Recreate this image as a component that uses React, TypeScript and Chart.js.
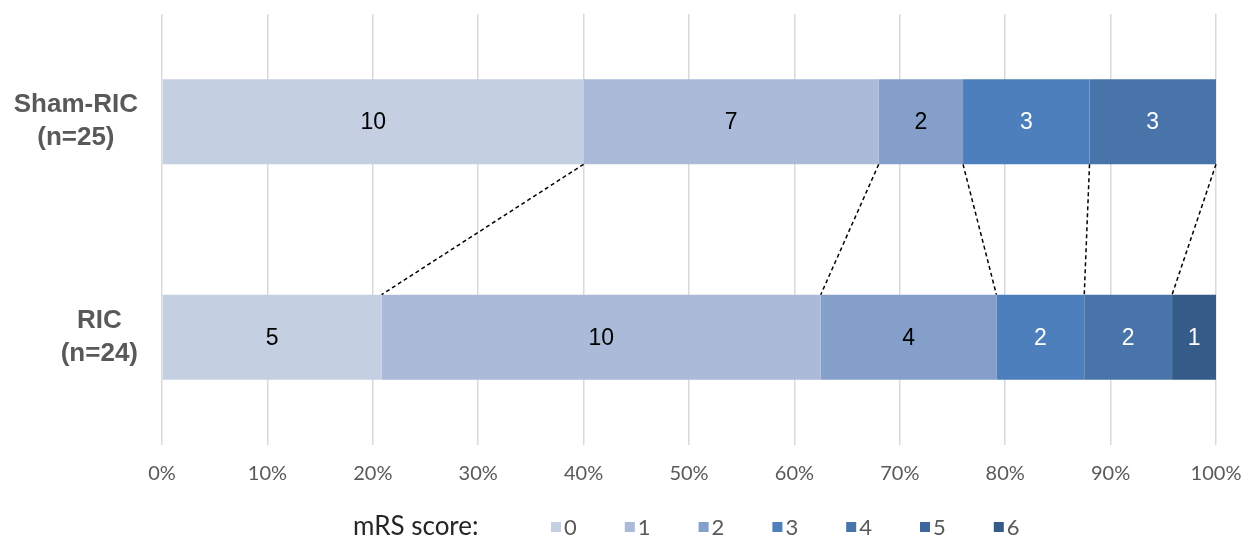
import React, { useEffect, useRef } from "react";
import { Chart, registerables } from "chart.js";

Chart.register(...registerables);

const groupLabels: string[][] = [["Sham-RIC", "(n=25)"], ["RIC", "(n=24)"]];
const scoreLabels = ["0", "1", "2", "3", "4", "5", "6"];
const shamCounts = [10, 7, 2, 3, 3, 0, 0];
const ricCounts = [5, 10, 4, 2, 2, 0, 1];
const scoreColors = ["#C4CFE2", "#AABAD8", "#849FCA", "#4D7FBC", "#4874AA", "#3E67A0", "#355B88"];
const labelColors = ["#000000", "#000000", "#000000", "#FFFFFF", "#FFFFFF", "#FFFFFF", "#FFFFFF"];
const legendTitle = "mRS score:";

const groupCounts = [shamCounts, ricCounts];
const totals = groupCounts.map((c) => c.reduce((a, b) => a + b, 0));
const pct = (counts: number[], total: number) => counts.map((c) => (c / total) * 100);
const shamPct = pct(shamCounts, totals[0]);
const ricPct = pct(ricCounts, totals[1]);

const cumulative = (arr: number[]) => {
  let s = 0;
  return arr.map((v) => (s += v));
};

const segmentLabelsPlugin = {
  id: "segmentLabels",
  afterDatasetsDraw(chart: any) {
    const ctx = chart.ctx;
    ctx.save();
    ctx.font = "23px 'Liberation Sans', Arial, sans-serif";
    ctx.textAlign = "center";
    ctx.textBaseline = "middle";
    chart.data.datasets.forEach((_ds: any, i: number) => {
      const meta = chart.getDatasetMeta(i);
      meta.data.forEach((bar: any, j: number) => {
        const c = groupCounts[j][i];
        if (!c) return;
        const p = bar.getCenterPoint();
        ctx.fillStyle = labelColors[i];
        ctx.fillText(String(c), p.x, p.y + 1);
      });
    });
    ctx.restore();
  },
};

const connectorPlugin = {
  id: "connectors",
  afterDatasetsDraw(chart: any) {
    const ctx = chart.ctx;
    const xs = chart.scales.x;
    const meta0 = chart.getDatasetMeta(0);
    const topBar = meta0.data[0];
    const botBar = meta0.data[1];
    const y1 = topBar.y + topBar.height / 2;
    const y2 = botBar.y - botBar.height / 2;
    const c1 = cumulative(shamPct);
    const c2 = cumulative(ricPct);
    const seen = new Set<string>();
    ctx.save();
    ctx.strokeStyle = "#000000";
    ctx.lineWidth = 1.5;
    ctx.setLineDash([4, 3]);
    for (let k = 0; k < scoreLabels.length - 1; k++) {
      const a = Math.min(c1[k], 100);
      const b = Math.min(c2[k], 100);
      if (a >= 99.999 && b >= 99.999) continue;
      const key = a.toFixed(3) + "-" + b.toFixed(3);
      if (seen.has(key)) continue;
      seen.add(key);
      ctx.beginPath();
      ctx.moveTo(xs.getPixelForValue(a), y1);
      ctx.lineTo(xs.getPixelForValue(b), y2);
      ctx.stroke();
    }
    ctx.restore();
  },
};

const groupLabelPlugin = {
  id: "groupLabels",
  afterDraw(chart: any) {
    const ctx = chart.ctx;
    const ys = chart.scales.y;
    ctx.save();
    ctx.font = "bold 26px 'Liberation Sans', Arial, sans-serif";
    ctx.fillStyle = "#595959";
    ctx.textAlign = "center";
    ctx.textBaseline = "middle";
    const rightEdge = chart.chartArea.left - 24;
    groupLabels.forEach((lines, i) => {
      const yc = ys.getPixelForValue(i);
      const w = Math.max(...lines.map((l) => ctx.measureText(l).width));
      const cx = rightEdge - w / 2;
      const lh = 33;
      lines.forEach((l, k) => {
        ctx.fillText(l, cx, yc + (k - (lines.length - 1) / 2) * lh);
      });
    });
    ctx.restore();
  },
};

const legendPlugin = {
  id: "customLegend",
  afterDraw(chart: any) {
    const ctx = chart.ctx;
    const y = 527;
    ctx.save();
    ctx.textBaseline = "middle";
    ctx.textAlign = "left";
    ctx.font = "26px Lato, 'Open Sans', sans-serif";
    ctx.fillStyle = "#262626";
    ctx.fillText(legendTitle, 353, y);
    ctx.font = "22px Lato, 'Open Sans', sans-serif";
    scoreLabels.forEach((s, i) => {
      const bx = 551 + i * 73.8;
      ctx.fillStyle = scoreColors[i];
      ctx.fillRect(bx, y - 5, 10, 10);
      ctx.fillStyle = "#595959";
      ctx.fillText(s, bx + 13, y + 1);
    });
    ctx.restore();
  },
};

export default function App() {
  const ref = useRef<HTMLCanvasElement | null>(null);

  useEffect(() => {
    if (!ref.current) return;
    const chart = new Chart(ref.current, {
      type: "bar",
      data: {
        labels: groupLabels.map((l) => l.join(" ")),
        datasets: scoreLabels.map((s, i) => ({
          label: s,
          data: [shamPct[i], ricPct[i]],
          backgroundColor: scoreColors[i],
          borderWidth: 0,
          barPercentage: 0.395,
          categoryPercentage: 1,
        })),
      },
      options: {
        indexAxis: "y",
        animation: false,
        responsive: true,
        maintainAspectRatio: false,
        layout: { padding: { left: 162, top: 14, right: 29, bottom: 50 } },
        plugins: {
          legend: { display: false },
          tooltip: { enabled: false },
        },
        scales: {
          x: {
            stacked: true,
            min: 0,
            max: 100,
            border: { display: false },
            grid: {
              color: "#D9D9D9",
              lineWidth: 1.5,
              drawTicks: true,
              tickLength: 15,
              tickColor: "rgba(0,0,0,0)",
            },
            ticks: {
              stepSize: 10,
              padding: 2,
              color: "#595959",
              font: { family: "Lato, 'Open Sans', sans-serif", size: 20 },
              callback: (v: any) => v + "%",
            },
          },
          y: {
            stacked: true,
            display: false,
          },
        },
      },
      plugins: [connectorPlugin, segmentLabelsPlugin, groupLabelPlugin, legendPlugin],
    });
    return () => chart.destroy();
  }, []);

  return (
    <div style={{ position: "fixed", left: 0, top: 0, width: 1245, height: 538, background: "#fff" }}>
      <canvas ref={ref} />
    </div>
  );
}
